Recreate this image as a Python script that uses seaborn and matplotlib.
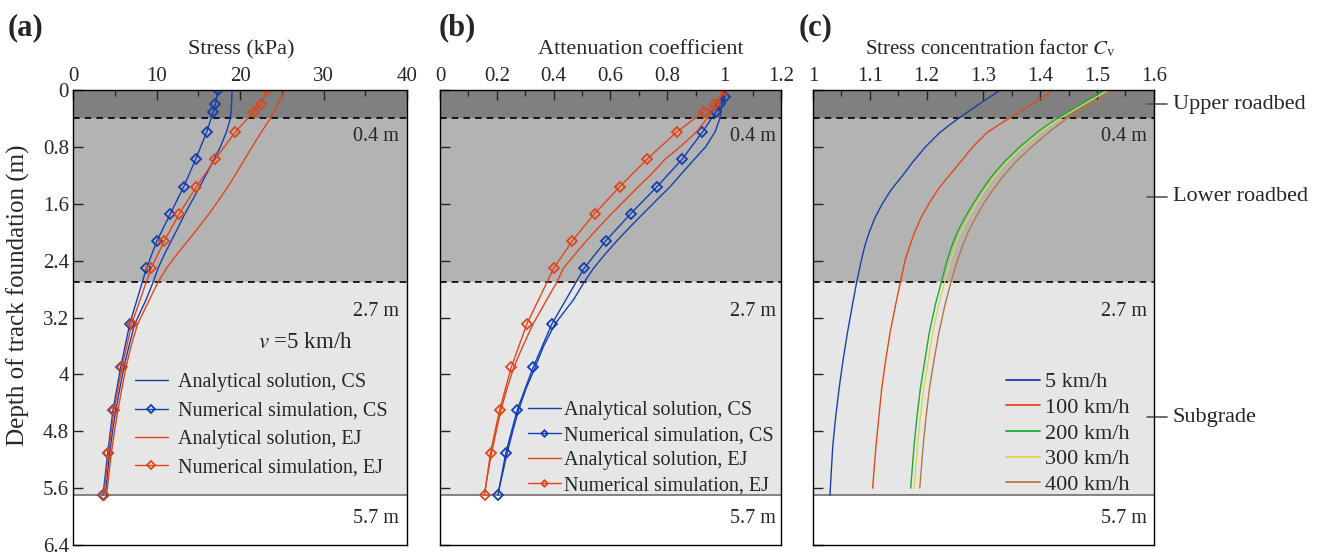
import numpy as np
import matplotlib
matplotlib.use("Agg")
import matplotlib.pyplot as plt
import seaborn as sns
from matplotlib.ticker import MultipleLocator

sns.set_style("ticks")
plt.rcParams['font.family'] = ['Liberation Serif', 'DejaVu Serif']
plt.rcParams['mathtext.fontset'] = 'stix'
plt.rcParams['font.size'] = 15

# ---- data ----
# panel (a): stress (kPa) vs depth (m)
depth_num = [0, 0.2, 0.305, 0.59, 0.975, 1.36, 1.74, 2.12, 2.51, 3.29, 3.9, 4.5, 5.1, 5.7]
stress_num_cs = [17.37, 17.05, 16.81, 16.01, 14.69, 13.26, 11.66, 10.06, 8.79, 6.79, 5.71, 4.79, 4.16, 3.59]
stress_num_ej = [23.23, 22.51, 21.64, 19.45, 17.01, 14.78, 12.74, 10.94, 9.34, 7.03, 5.87, 4.91, 4.24, 3.68]

depth_ana = [0, 0.2, 0.4, 0.59, 0.8, 0.975, 1.2, 1.36, 1.55, 1.74, 1.93, 2.12, 2.31, 2.51,
             2.7, 2.95, 3.29, 3.6, 3.9, 4.2, 4.5, 4.8, 5.1, 5.4, 5.65]
stress_ana_cs = [19.04, 19.0, 18.85, 18.37, 17.65, 16.89, 15.9, 15.17, 14.3, 13.41, 12.6, 11.78, 10.95, 10.18,
                 9.6, 8.75, 7.4, 6.7, 6.1, 5.6, 5.13, 4.74, 4.40, 4.12, 3.92]
stress_ana_ej = [25.35, 24.5, 23.64, 22.56, 21.45, 20.55, 19.4, 18.55, 17.45, 16.3, 15.05, 13.77, 12.45, 11.18,
                 10.2, 9.15, 7.75, 6.95, 6.35, 5.85, 5.39, 4.97, 4.60, 4.3, 4.07]

# panel (b): attenuation coefficient
depth_num_cs_b = [0.094, 0.2, 0.305, 0.59, 0.975, 1.36, 1.74, 2.12, 2.51, 3.29, 3.9, 4.5, 5.1, 5.7]
att_num_cs = [1.003, 0.986, 0.972, 0.924, 0.852, 0.764, 0.671, 0.584, 0.507, 0.394, 0.328, 0.272, 0.232, 0.204]
att_num_ej = [1.0, 0.968, 0.929, 0.833, 0.728, 0.633, 0.544, 0.466, 0.400, 0.306, 0.251, 0.210, 0.178, 0.157]
depth_ana_b = [0, 0.2, 0.4, 0.59, 0.8, 0.975, 1.2, 1.36, 1.55, 1.74, 1.93, 2.12, 2.31, 2.51,
               2.7, 2.95, 3.29, 3.6, 3.9, 4.2, 4.5, 4.8, 5.1, 5.4, 5.65]
att_ana_cs = [1.0, 0.992, 0.985, 0.968, 0.935, 0.895, 0.845, 0.81, 0.762, 0.715, 0.668, 0.623, 0.581, 0.540,
              0.508, 0.470, 0.405, 0.365, 0.335, 0.303, 0.277, 0.256, 0.237, 0.220, 0.206]
att_ana_ej = [1.0, 0.975, 0.940, 0.903, 0.845, 0.792, 0.740, 0.698, 0.651, 0.604, 0.559, 0.516, 0.475, 0.434,
              0.412, 0.376, 0.328, 0.292, 0.260, 0.236, 0.215, 0.198, 0.182, 0.168, 0.158]

# panel (c): stress concentration factor Cv
depth_c = [0, 0.2, 0.4, 0.5, 0.6, 0.8, 1.0, 1.2, 1.4, 1.6, 1.8, 2.0, 2.2, 2.4,
           2.7, 3.0, 3.4, 3.8, 4.2, 4.6, 5.0, 5.4, 5.6]
cv_5 = [1.330, 1.292, 1.256, 1.239, 1.223, 1.198, 1.177, 1.158, 1.138, 1.122, 1.109, 1.099, 1.091, 1.085,
        1.077, 1.070, 1.061, 1.053, 1.046, 1.040, 1.035, 1.032, 1.030]
cv_100 = [1.424, 1.385, 1.345, 1.325, 1.306, 1.281, 1.261, 1.240, 1.220, 1.204, 1.190, 1.179, 1.170, 1.162,
          1.154, 1.146, 1.136, 1.128, 1.121, 1.116, 1.111, 1.107, 1.105]
cv_200 = [1.512, 1.472, 1.430, 1.411, 1.394, 1.364, 1.338, 1.316, 1.298, 1.282, 1.267, 1.254, 1.244, 1.236,
          1.226, 1.216, 1.205, 1.197, 1.189, 1.183, 1.178, 1.174, 1.172]
cv_300 = [1.520, 1.477, 1.435, 1.416, 1.399, 1.369, 1.343, 1.321, 1.303, 1.287, 1.273, 1.260, 1.250, 1.242,
          1.232, 1.222, 1.211, 1.203, 1.195, 1.189, 1.184, 1.180, 1.178]
cv_400 = [1.533, 1.489, 1.447, 1.430, 1.414, 1.385, 1.358, 1.336, 1.317, 1.300, 1.286, 1.273, 1.263, 1.254,
          1.243, 1.233, 1.222, 1.213, 1.205, 1.199, 1.194, 1.190, 1.188]
speeds = ['5 km/h', '100 km/h', '200 km/h', '300 km/h', '400 km/h']

layer_bounds = [0, 0.4, 2.7, 5.7]
layer_names = ['Upper roadbed', 'Lower roadbed', 'Subgrade']
layer_label_y = [0.2, 1.5, 4.6]

blue = '#133fb0'
red = '#e0461a'
c_colors = ['#1a3fa8', '#e04a1a', '#1aaa30', '#dcd456', '#b8763e']

fig = plt.figure(figsize=(13.18, 5.56), dpi=100)
ax_a = fig.add_axes([0.0554, 0.0198, 0.2534, 0.8183])
ax_b = fig.add_axes([0.3338, 0.0198, 0.2587, 0.8183])
ax_c = fig.add_axes([0.6168, 0.0198, 0.2587, 0.8183])


def draw_layers(ax, text_x):
    ax.axhspan(layer_bounds[0], layer_bounds[1], color='#808080', lw=0, zorder=0)
    ax.axhspan(layer_bounds[1], layer_bounds[2], color='#b3b3b3', lw=0, zorder=0)
    ax.axhspan(layer_bounds[2], layer_bounds[3], color='#e6e6e6', lw=0, zorder=0)
    for d in layer_bounds[1:3]:
        ax.axhline(d, color='black', ls=(0, (4, 3)), lw=1.2, zorder=1)
    ax.axhline(layer_bounds[3], color='#707070', lw=1.2, zorder=1)
    tr = ax.get_yaxis_transform()
    ax.text(text_x, 0.66, '0.4 m', transform=tr, ha='right', va='center', fontsize=14.5)
    ax.text(text_x, 3.11, '2.7 m', transform=tr, ha='right', va='center', fontsize=14.5)
    ax.text(text_x, 6.03, '5.7 m', transform=tr, ha='right', va='center', fontsize=14.5)


def style_axes(ax, xlim, major, minor, xlabel, ylabels=True, label_size=16, label_x=0.5):
    ax.set_xlim(*xlim)
    ax.set_ylim(6.4, 0)
    ax.xaxis.set_major_locator(MultipleLocator(major))
    ax.xaxis.set_minor_locator(MultipleLocator(minor))
    ax.yaxis.set_major_locator(MultipleLocator(0.8))
    ax.xaxis.tick_top()
    ax.xaxis.set_label_position('top')
    ax.tick_params(which='both', direction='in', top=True, bottom=False,
                   left=True, right=False, labeltop=True, labelbottom=False,
                   labelleft=ylabels, labelsize=15, width=1)
    ax.tick_params(which='major', length=7, pad=3)
    ax.tick_params(which='minor', length=4)
    ax.set_xlabel(xlabel, fontsize=label_size, labelpad=9)
    ax.xaxis.label.set_x(label_x)
    for s in ax.spines.values():
        s.set_linewidth(1.0)
        s.set_color('black')
    ax.grid(False)


num_kw = dict(marker='D', markersize=5.5, markerfacecolor='none', markeredgewidth=1.3)

# ---- panel (a) ----
draw_layers(ax_a, 0.975)
sns.lineplot(x=stress_ana_cs, y=depth_ana, sort=False, estimator=None, ax=ax_a,
             color=blue, lw=1.0, label='Analytical solution, CS')
sns.lineplot(x=stress_num_cs, y=depth_num, sort=False, estimator=None, ax=ax_a,
             color=blue, lw=1.0, markeredgecolor=blue, label='Numerical simulation, CS', **num_kw)
sns.lineplot(x=stress_ana_ej, y=depth_ana, sort=False, estimator=None, ax=ax_a,
             color=red, lw=1.0, label='Analytical solution, EJ')
sns.lineplot(x=stress_num_ej, y=depth_num, sort=False, estimator=None, ax=ax_a,
             color=red, lw=1.0, markeredgecolor=red, label='Numerical simulation, EJ', **num_kw)
style_axes(ax_a, (0, 40), 10, 5, 'Stress (kPa)', label_x=0.505)
ax_a.set_yticks(np.arange(0, 6.5, 0.8))
ax_a.set_yticklabels(['0', '0.8', '1.6', '2.4', '3.2', '4', '4.8', '5.6', '6.4'])
ax_a.set_ylim(6.4, 0)
ax_a.set_ylabel('Depth of track foundation (m)', fontsize=18)
ax_a.yaxis.set_label_coords(-0.128, 0.548)
ax_a.text(0.555, 3.55, '$v$ =5 km/h', transform=ax_a.get_yaxis_transform(), ha='left', va='center',
          fontsize=16.5)
ax_a.legend(loc='center left', bbox_to_anchor=(0.131, 0.263), frameon=False, fontsize=14.5,
            handlelength=1.64, handletextpad=0.5, labelspacing=0.46, markerscale=0.7)

# ---- panel (b) ----
draw_layers(ax_b, 0.985)
sns.lineplot(x=att_ana_cs, y=depth_ana_b, sort=False, estimator=None, ax=ax_b,
             color=blue, lw=1.0, label='Analytical solution, CS')
sns.lineplot(x=att_num_cs, y=depth_num_cs_b, sort=False, estimator=None, ax=ax_b,
             color=blue, lw=1.0, markeredgecolor=blue, label='Numerical simulation, CS', **num_kw)
sns.lineplot(x=att_ana_ej, y=depth_ana_b, sort=False, estimator=None, ax=ax_b,
             color=red, lw=1.0, label='Analytical solution, EJ')
sns.lineplot(x=att_num_ej, y=depth_num, sort=False, estimator=None, ax=ax_b,
             color=red, lw=1.0, markeredgecolor=red, label='Numerical simulation, EJ', **num_kw)
style_axes(ax_b, (0, 1.2), 0.2, 0.1, 'Attenuation coefficient', ylabels=False, label_x=0.588)
ax_b.set_xticks([0, 0.2, 0.4, 0.6, 0.8, 1.0, 1.2])
ax_b.set_xticklabels(['0', '0.2', '0.4', '0.6', '0.8', '1', '1.2'])
ax_b.legend(loc='center left', bbox_to_anchor=(0.204, 0.213), frameon=False, fontsize=14.5,
            handlelength=1.64, handletextpad=0.15, labelspacing=0.3, markerscale=0.6)

# ---- panel (c) ----
draw_layers(ax_c, 0.98)
cv_series = [cv_5, cv_100, cv_200, cv_300, cv_400]
for vals, name, col in zip(cv_series, speeds, c_colors):
    d = depth_c if name != '5 km/h' else depth_c[:-1] + [5.7]
    sns.lineplot(x=vals, y=d, sort=False, estimator=None, ax=ax_c,
                 color=col, lw=1.0, label=name)
style_axes(ax_c, (1, 1.6), 0.1, 0.05, 'Stress concentration factor $C_{\\mathrm{v}}$', ylabels=False,
           label_size=15, label_x=0.519)
ax_c.set_xticks([1, 1.1, 1.2, 1.3, 1.4, 1.5, 1.6])
ax_c.set_xticklabels(['1', '1.1', '1.2', '1.3', '1.4', '1.5', '1.6'])
leg_c = ax_c.legend(loc='center left', bbox_to_anchor=(0.507, 0.245), frameon=False, fontsize=16,
                    handlelength=1.53, handletextpad=0.22, labelspacing=0.23)
for h in leg_c.get_lines():
    h.set_linewidth(1.3)

tr = ax_c.get_yaxis_transform()
for name, yy in zip(layer_names, layer_label_y):
    ax_c.plot([0.98, 1.038], [yy, yy], transform=tr, color='#555555', lw=1.2, clip_on=False)
    ax_c.text(1.055, yy, name, transform=tr, ha='left', va='center', fontsize=16)

fig.text(0.006, 0.951, '(a)', fontsize=22, fontweight='bold', va='center')
fig.text(0.333, 0.951, '(b)', fontsize=22, fontweight='bold', va='center')
fig.text(0.606, 0.951, '(c)', fontsize=22, fontweight='bold', va='center')

fig.savefig('out.png', dpi=100)
